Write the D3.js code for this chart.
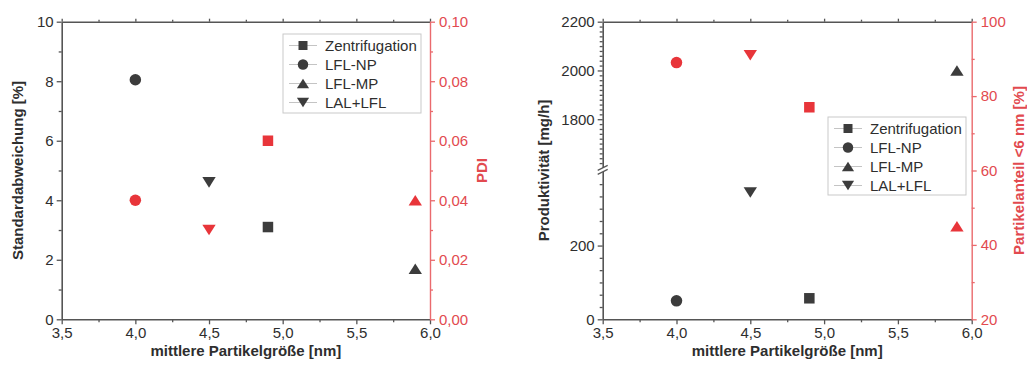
<!DOCTYPE html>
<html>
<head>
<meta charset="utf-8">
<script src="https://cdn.jsdelivr.net/npm/d3@7"></script>
<style>
  html, body { margin: 0; padding: 0; background: #fff; }
  svg { display: block; font-family: "Liberation Sans", Arial, Helvetica, sans-serif; }
</style>
</head>
<body>
<svg id="chart" width="1027" height="372"></svg>
<script>
// Preparation methods and their measured properties
const methods = ["Zentrifugation", "LFL-NP", "LFL-MP", "LAL+LFL"];
const meanSize = [4.9, 4.0, 5.9, 4.5];          // mittlere Partikelgröße [nm]
const stdDeviation = [3.1, 8.05, 1.7, 4.6];     // Standardabweichung [%]
const pdiValues = [0.06, 0.04, 0.04, 0.03];     // PDI
const productivity = [57, 50, 2000, 344];       // Produktivität [mg/h]
const shareBelow6nm = [77, 89, 45, 91];         // Partikelanteil <6 nm [%]

// Axis ticks
const sizeTicks = [3.5, 4.0, 4.5, 5.0, 5.5, 6.0];
const sizeMinorTicks = [3.75, 4.25, 4.75, 5.25, 5.75];
const stdTicks = [0, 2, 4, 6, 8, 10];
const stdMinorTicks = [1, 3, 5, 7, 9];
const pdiTicks = [0, 0.02, 0.04, 0.06, 0.08, 0.10];
const pdiMinorTicks = [0.01, 0.03, 0.05, 0.07, 0.09];
const prodTicksLow = [0, 200];
const prodTicksHigh = [1800, 2000, 2200];
const prodBreak = [400, 1600];
const shareTicks = [20, 40, 60, 80, 100];
const shareMinorTicks = [30, 50, 70, 90];

const DARK = "#3c3c3c";
const TEXT = "#2e2e2e";
const RED = "#e8353a";
const RED_AXIS = "#ea6a6d";
const RED_TEXT = "#e24a4f";

const svg = d3.select("#chart");
const comma = f => v => d3.format(f)(v).replace(".", ",");

// Marker shapes: square, circle, triangle up, triangle down (centred on their box)
function markerPath(i, s) {
  const h = s / 2;
  if (i === 0) return `M${-h},${-h}H${h}V${h}H${-h}Z`;
  if (i === 1) return d3.symbol(d3.symbolCircle, Math.PI * h * h)();
  const w = s * 0.58, th = s * 0.46;
  if (i === 2) return `M0,${-th}L${w},${th}L${-w},${th}Z`;
  return `M0,${th}L${w},${-th}L${-w},${-th}Z`;
}

function styleAxis(g, color, width) {
  g.selectAll("path.domain").attr("stroke", color).attr("stroke-width", width);
  g.selectAll(".tick line").attr("stroke", color).attr("stroke-width", 1.3);
  g.selectAll(".tick text").attr("font-size", 15);
}

function drawPanel(cfg) {
  const { left, right, y0, y1 } = cfg;
  const g = svg.append("g");
  const x = d3.scaleLinear().domain([3.5, 6]).range([left, right]);

  // top axis (ticks only)
  const topMajor = g.append("g").attr("transform", `translate(0,${y0})`)
    .call(d3.axisTop(x).tickValues(sizeTicks).tickSize(3).tickSizeOuter(0).tickFormat(""));
  styleAxis(topMajor, "#555", 1.6);
  const topMinor = g.append("g").attr("transform", `translate(0,${y0})`)
    .call(d3.axisTop(x).tickValues(sizeMinorTicks).tickSize(2).tickFormat(""));
  topMinor.select("path.domain").remove();
  styleAxis(topMinor, "#555", 1.6);

  // bottom axis
  const bx = g.append("g").attr("transform", `translate(0,${y1})`)
    .call(d3.axisBottom(x).tickValues(sizeTicks).tickSize(5).tickSizeOuter(0).tickPadding(3).tickFormat(comma(".1f")));
  styleAxis(bx, "#555", 1.6);
  bx.selectAll(".tick text").attr("fill", TEXT);
  const bxm = g.append("g").attr("transform", `translate(0,${y1})`)
    .call(d3.axisBottom(x).tickValues(sizeMinorTicks).tickSize(3).tickFormat(""));
  bxm.select("path.domain").remove();
  styleAxis(bxm, "#555", 1.6);

  // left axis
  const ly = cfg.yLeft;
  const la = g.append("g").attr("transform", `translate(${left},0)`)
    .call(d3.axisLeft(ly).tickValues(cfg.leftTicks).tickSize(5).tickSizeOuter(0).tickPadding(3).tickFormat(cfg.leftFormat));
  styleAxis(la, "#555", 1.6);
  la.selectAll(".tick text").attr("fill", TEXT);
  const lam = g.append("g").attr("transform", `translate(${left},0)`)
    .call(d3.axisLeft(ly).tickValues(cfg.leftMinor).tickSize(3).tickFormat(""));
  lam.select("path.domain").remove();
  styleAxis(lam, "#555", 1.6);

  // right axis (red)
  const ry = cfg.yRight;
  const ra = g.append("g").attr("transform", `translate(${right},0)`)
    .call(d3.axisRight(ry).tickValues(cfg.rightTicks).tickSize(5).tickSizeOuter(0).tickPadding(4).tickFormat(cfg.rightFormat));
  styleAxis(ra, RED_AXIS, 1.4);
  ra.selectAll(".tick text").attr("fill", RED_TEXT);
  const ram = g.append("g").attr("transform", `translate(${right},0)`)
    .call(d3.axisRight(ry).tickValues(cfg.rightMinor).tickSize(3).tickFormat(""));
  ram.select("path.domain").remove();
  styleAxis(ram, RED_AXIS, 1.4);

  if (cfg.breakAt) {
    const yb = (ly(prodBreak[0]) + ly(prodBreak[1])) / 2;
    g.append("rect").attr("x", left - 1.5).attr("y", yb - 2).attr("width", 3).attr("height", 4).attr("fill", "#fff");
    [-2, 2].forEach(d => {
      g.append("line")
        .attr("x1", left - 5).attr("y1", yb + d + 2.5)
        .attr("x2", left + 5).attr("y2", yb + d - 2.5)
        .attr("stroke", "#555").attr("stroke-width", 1.2);
    });
  }

  // axis titles
  g.append("text").attr("x", (left + right) / 2).attr("y", y1 + 37)
    .attr("text-anchor", "middle").attr("font-size", 15).attr("font-weight", "bold").attr("fill", TEXT)
    .text("mittlere Partikelgröße [nm]");
  g.append("text").attr("transform", `translate(${cfg.leftTitleX},${(y0 + y1) / 2}) rotate(-90)`)
    .attr("text-anchor", "middle").attr("font-size", 15).attr("font-weight", "bold").attr("fill", TEXT)
    .text(cfg.leftTitle);
  g.append("text").attr("transform", `translate(${cfg.rightTitleX},${(y0 + y1) / 2}) rotate(-90)`)
    .attr("text-anchor", "middle").attr("font-size", 15).attr("font-weight", "bold").attr("fill", RED_TEXT)
    .text(cfg.rightTitle);

  // data points
  methods.forEach((m, i) => {
    const size = i === 0 ? 10.5 : 11.5;
    g.append("path").attr("d", markerPath(i, size))
      .attr("transform", `translate(${x(meanSize[i])},${ly(cfg.leftValues[i])})`)
      .attr("fill", DARK);
    g.append("path").attr("d", markerPath(i, size))
      .attr("transform", `translate(${x(meanSize[i])},${ry(cfg.rightValues[i])})`)
      .attr("fill", RED);
  });

  // legend
  const lg = cfg.legend;
  g.append("rect").attr("x", lg.x).attr("y", lg.y).attr("width", lg.w).attr("height", lg.h)
    .attr("fill", "#fff").attr("stroke", "#c9c9c9").attr("stroke-width", 1);
  methods.forEach((m, i) => {
    const yy = lg.y + 11.5 + i * 19;
    const sx = lg.x + 20;
    g.append("line").attr("x1", sx - 14).attr("x2", sx + 14).attr("y1", yy).attr("y2", yy)
      .attr("stroke", "#c4c4c4").attr("stroke-width", 1);
    g.append("path").attr("d", markerPath(i, i === 0 ? 9 : 10.5))
      .attr("transform", `translate(${sx},${yy})`)
      .attr("fill", DARK);
    g.append("text").attr("x", lg.x + 42).attr("y", yy + 5.5)
      .attr("font-size", 15).attr("fill", TEXT).text(m);
  });
}

const plotTop = 21.7, plotBottom = 319.3;

// Left panel: Standardabweichung and PDI
drawPanel({
  left: 61.7, right: 430, y0: plotTop, y1: plotBottom,
  yLeft: d3.scaleLinear().domain([0, 10]).range([plotBottom, plotTop]),
  leftTicks: stdTicks, leftMinor: stdMinorTicks, leftFormat: d3.format("d"),
  yRight: d3.scaleLinear().domain([0, 0.10]).range([plotBottom, plotTop]),
  rightTicks: pdiTicks, rightMinor: pdiMinorTicks, rightFormat: comma(".2f"),
  leftValues: stdDeviation, rightValues: pdiValues,
  leftTitle: "Standardabweichung [%]", leftTitleX: 23,
  rightTitle: "PDI", rightTitleX: 487,
  legend: { x: 283, y: 34, w: 138, h: 79 }
});

// Right panel: Produktivität (broken axis) and Partikelanteil <6 nm
const span = plotBottom - plotTop;
const prodScale = d3.scaleLinear()
  .domain([0, prodBreak[0], prodBreak[1], 2200])
  .range([plotBottom, plotBottom - span * 0.4955, plotBottom - span * 0.5085, plotTop]);
const lowMinor = d3.range(1, 12).map(k => k * 200 / 6).filter(v => Math.abs(v - 200) > 1 && v < prodBreak[0] - 1);
const highMinor = d3.range(1620, 2200, 20).filter(v => v % 200 !== 0);
drawPanel({
  left: 602.7, right: 971.7, y0: plotTop, y1: plotBottom,
  yLeft: prodScale,
  leftTicks: prodTicksLow.concat(prodTicksHigh), leftMinor: lowMinor.concat(highMinor), leftFormat: d3.format("d"),
  yRight: d3.scaleLinear().domain([20, 100]).range([plotBottom, plotTop]),
  rightTicks: shareTicks, rightMinor: shareMinorTicks, rightFormat: d3.format("d"),
  leftValues: productivity, rightValues: shareBelow6nm,
  leftTitle: "Produktivität [mg/h]", leftTitleX: 549,
  rightTitle: "Partikelanteil <6 nm [%]", rightTitleX: 1024,
  legend: { x: 828, y: 117, w: 138, h: 78 },
  breakAt: true
});
</script>
</body>
</html>
